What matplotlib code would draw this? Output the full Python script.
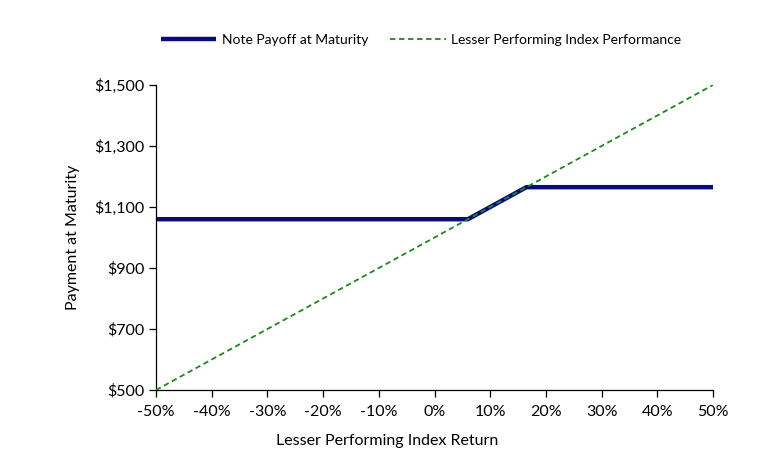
import matplotlib
matplotlib.use("Agg")
import matplotlib.pyplot as plt
from matplotlib.ticker import FuncFormatter

plt.rcParams['font.family'] = ['Lato', 'DejaVu Sans']

# Data
payoff_x = [-50, 6, 16.5, 50]
payoff_y = [1060, 1060, 1165, 1165]
index_x = [-50, 50]
index_y = [500, 1500]
xticks = list(range(-50, 51, 10))
yticks = [500, 700, 900, 1100, 1300, 1500]

fig = plt.figure(figsize=(7.67, 4.53), dpi=100)
ax = fig.add_axes([0.2034, 0.139, 0.7262, 0.6734])

l1, = ax.plot(payoff_x, payoff_y, color='#0a0a78', lw=3.2, solid_capstyle='butt',
              label='Note Payoff at Maturity', zorder=2)
l2, = ax.plot(index_x, index_y, color='#1a8a1a', lw=1.3, ls=(0, (3, 2)),
              label='Lesser Performing Index Performance', zorder=3)

ax.set_xlim(-50, 50)
ax.set_ylim(500, 1500)
ax.set_xticks(xticks)
ax.set_yticks(yticks)
ax.xaxis.set_major_formatter(FuncFormatter(lambda v, p: f"{int(v)}%"))
ax.yaxis.set_major_formatter(FuncFormatter(lambda v, p: f"${int(v):,}"))
for s in ['top', 'right']:
    ax.spines[s].set_visible(False)
for s in ['left', 'bottom']:
    ax.spines[s].set_linewidth(0.9)
ax.tick_params(axis='both', direction='out', length=5, width=0.9, labelsize=11.5, colors='black')
ax.tick_params(axis='x', pad=6)
ax.set_xlabel('Lesser Performing Index Return', fontsize=11.5)
ax.xaxis.set_label_coords(0.415, -0.145)
ax.set_ylabel('Payment at Maturity', fontsize=11.5, labelpad=10)

fig.legend(handles=[l1, l2], loc='center', bbox_to_anchor=(0.549, 0.912), ncol=2,
           frameon=False, fontsize=10, handlelength=4.0, columnspacing=1.6, handletextpad=0.4)

fig.savefig('out.png', dpi=100)
